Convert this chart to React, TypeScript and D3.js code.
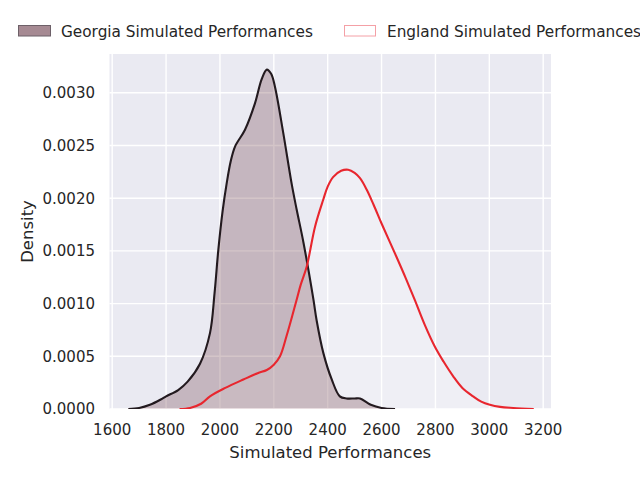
import * as d3 from 'd3';

// Georgia simulated performances (kde)
const georgiaX = [1660, 1700, 1740, 1780, 1800, 1845, 1880, 1926, 1963, 1980, 1994, 2010, 2025, 2040, 2056, 2093, 2130, 2155, 2174, 2190, 2204, 2235, 2266, 2285, 2310, 2347, 2359, 2384, 2415, 2445, 2470, 2500, 2520, 2560, 2600, 2650];
const georgiaDensity = [0, 0.00001, 0.00004, 0.00009, 0.00012, 0.00018, 0.00026, 0.00043, 0.00072, 0.0011, 0.00151, 0.00188, 0.00214, 0.00235, 0.00249, 0.00265, 0.0029, 0.00313, 0.00322, 0.00318, 0.00306, 0.00262, 0.00214, 0.00189, 0.00158, 0.00104, 0.00084, 0.00053, 0.00028, 0.00012, 0.0001, 0.0001, 0.0001, 0.00004, 0.00001, 0];

// England simulated performances
const englandX = [1850, 1889, 1930, 1963, 2020, 2087, 2140, 2174, 2200, 2223, 2247, 2284, 2300, 2322, 2353, 2384, 2400, 2420, 2450, 2476, 2500, 2520, 2545, 2570, 2600, 2656, 2690, 2724, 2760, 2798, 2830, 2866, 2900, 2940, 2970, 3002, 3040, 3089, 3165];
const englandDensity = [0, 0.00001, 0.00005, 0.00012, 0.0002, 0.00028, 0.00034, 0.00037, 0.00042, 0.0005, 0.00069, 0.00103, 0.00118, 0.00135, 0.00173, 0.00199, 0.00211, 0.0022, 0.00226, 0.00227, 0.00224, 0.00219, 0.00208, 0.00194, 0.00176, 0.00144, 0.00124, 0.00103, 0.0008, 0.00059, 0.00045, 0.00031, 0.0002, 0.00012, 0.00007, 0.00004, 0.00002, 0.00001, 0];

const xTicks = [1600, 1800, 2000, 2200, 2400, 2600, 2800, 3000, 3200];
const yTicks = [0, 0.0005, 0.001, 0.0015, 0.002, 0.0025, 0.003];
const legendLabels = ['Georgia Simulated Performances', 'England Simulated Performances'];

const W = 640;
const H = 480;
const left = 109.5;
const right = 551;
const top = 54;
const bottom = 409;
const font = 'DejaVu Sans, sans-serif';
const textColor = '#262626';

export default function App() {
  const x = d3.scaleLinear().domain([1590, 3229]).range([left, right]);
  const y = d3.scaleLinear().domain([0, 0.003368]).range([bottom, top]);

  const georgia = georgiaX.map((v, i) => [v, georgiaDensity[i]] as [number, number]);
  const england = englandX.map((v, i) => [v, englandDensity[i]] as [number, number]);

  const curve = d3.curveCatmullRom.alpha(0.5);
  const area = d3.area<[number, number]>()
    .x(d => x(d[0]))
    .y0(y(0))
    .y1(d => y(d[1]))
    .curve(curve);
  const line = d3.line<[number, number]>()
    .x(d => x(d[0]))
    .y(d => y(d[1]))
    .curve(curve);

  return (
    <div style={{ position: 'absolute', left: 0, top: 0 }}>
      <svg width={W} height={H} style={{ display: 'block', background: '#fff' }}>
        <defs>
          <clipPath id="plot">
            <rect x={left} y={top} width={right - left} height={bottom - top} />
          </clipPath>
        </defs>
        <rect x={left} y={top} width={right - left} height={bottom - top} fill="#eaeaf2" />
        <g stroke="#fff" strokeWidth={1.4}>
          {xTicks.map(t => (
            <line key={t} x1={x(t)} x2={x(t)} y1={top} y2={bottom} />
          ))}
          {yTicks.map(t => (
            <line key={t} x1={left} x2={right} y1={y(t)} y2={y(t)} />
          ))}
        </g>
        <g clipPath="url(#plot)">
          <path d={area(england) ?? ''} fill="#fff" fillOpacity={0.25} />
          <path d={area(georgia) ?? ''} fill="rgb(111,64,72)" fillOpacity={0.3} />
          <line x1={x(georgiaX[0])} x2={x(georgiaX[georgiaX.length - 1])} y1={bottom} y2={bottom} stroke="#e8dde0" strokeWidth={2} />
          <path d={line(georgia) ?? ''} fill="none" stroke="#231a1f" strokeWidth={2.1} />
          <path d={line(england) ?? ''} fill="none" stroke="#e8262e" strokeWidth={2.1} />
        </g>
        <g fontFamily={font} fontSize={15} fill={textColor}>
          {xTicks.map(t => (
            <text key={t} x={x(t)} y={435} textAnchor="middle">{t}</text>
          ))}
          {yTicks.map(t => (
            <text key={t} x={95} y={y(t)} dy="0.36em" textAnchor="end">{t.toFixed(4)}</text>
          ))}
        </g>
        <text x={(left + right) / 2} y={458} textAnchor="middle" fontFamily={font} fontSize={16.5} fill={textColor}>
          Simulated Performances
        </text>
        <text transform={`translate(33,${(top + bottom) / 2}) rotate(-90)`} textAnchor="middle" fontFamily={font} fontSize={16.5} fill={textColor}>
          Density
        </text>
        <g fontFamily={font} fontSize={15.3} fill={textColor}>
          <rect x={18.5} y={25.5} width={32} height={10.5} fill="#a68a93" stroke="#6d6068" strokeWidth={1} />
          <text x={61} y={31} dy="0.36em">{legendLabels[0]}</text>
          <rect x={344.5} y={25.5} width={31} height={10.5} fill="#fff" stroke="#f4a0a6" strokeWidth={1} />
          <text x={387} y={31} dy="0.36em">{legendLabels[1]}</text>
        </g>
      </svg>
    </div>
  );
}
